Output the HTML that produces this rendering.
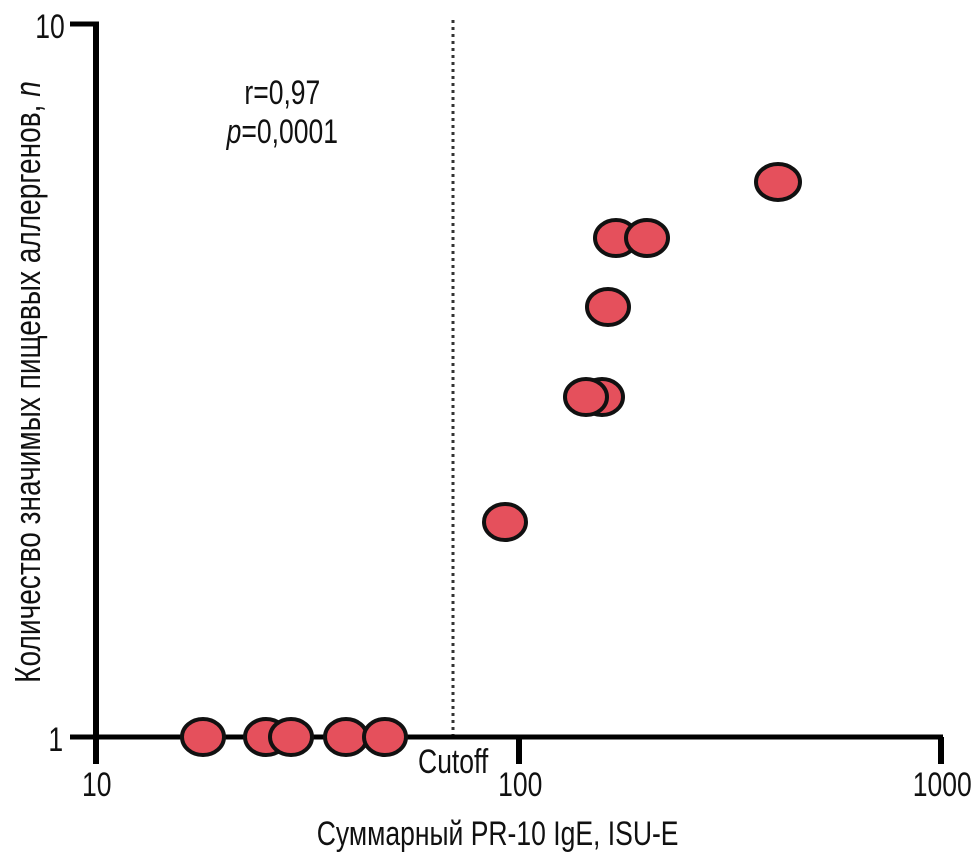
<!DOCTYPE html>
<html><head><meta charset="utf-8"><style>
html,body{margin:0;padding:0;background:#fff;}
svg text{font-family:"Liberation Sans",sans-serif;fill:#111;}
</style></head><body>
<svg width="980" height="862" viewBox="0 0 980 862" xmlns="http://www.w3.org/2000/svg">
<line x1="453" y1="20" x2="453" y2="736" stroke="#333" stroke-width="3" stroke-dasharray="3,4"/>
<line x1="96" y1="22" x2="96" y2="740" stroke="#000" stroke-width="6"/>
<line x1="70" y1="24" x2="99" y2="24" stroke="#000" stroke-width="5"/>
<line x1="70" y1="737" x2="943" y2="737" stroke="#000" stroke-width="5"/>
<line x1="96" y1="737" x2="96" y2="764" stroke="#000" stroke-width="6"/>
<line x1="519" y1="737" x2="519" y2="764" stroke="#000" stroke-width="6"/>
<line x1="941" y1="737" x2="941" y2="764" stroke="#000" stroke-width="6"/>
<g font-size="34" transform="scale(0.78,1)">
<text x="83" y="38" text-anchor="end">10</text>
<text x="81" y="751" text-anchor="end">1</text>
<text x="124" y="796" text-anchor="middle">10</text>
<text x="667" y="796" text-anchor="middle">100</text>
<text x="1208" y="796" text-anchor="middle">1000</text>
<text x="581" y="773" text-anchor="middle">Cutoff</text>
<text x="362" y="104" text-anchor="middle">r=0,97</text>
<text x="362" y="143" text-anchor="middle"><tspan font-style="italic">p</tspan>=0,0001</text>
<text x="638" y="845" text-anchor="middle">Суммарный PR-10 IgE, ISU-E</text>
</g>
<text transform="translate(40,382) rotate(-90) scale(0.78,1)" font-size="36" text-anchor="middle">Количество значимых пищевых аллергенов, <tspan font-style="italic">n</tspan></text>
<g fill="#e5505c" stroke="#111" stroke-width="4">
<ellipse cx="203" cy="737" rx="21" ry="18"/>
<ellipse cx="266" cy="737" rx="21" ry="18"/>
<ellipse cx="291" cy="737" rx="21" ry="18"/>
<ellipse cx="346" cy="737" rx="21" ry="18"/>
<ellipse cx="385" cy="737" rx="21" ry="18"/>
<ellipse cx="505" cy="522" rx="21" ry="18"/>
<ellipse cx="602" cy="397" rx="21" ry="18"/>
<ellipse cx="586" cy="397" rx="21" ry="18"/>
<ellipse cx="608" cy="307" rx="21" ry="18"/>
<ellipse cx="616" cy="238" rx="21" ry="18"/>
<ellipse cx="647" cy="238" rx="21" ry="18"/>
<ellipse cx="778" cy="182" rx="22" ry="18"/>
</g>
</svg>
</body></html>
